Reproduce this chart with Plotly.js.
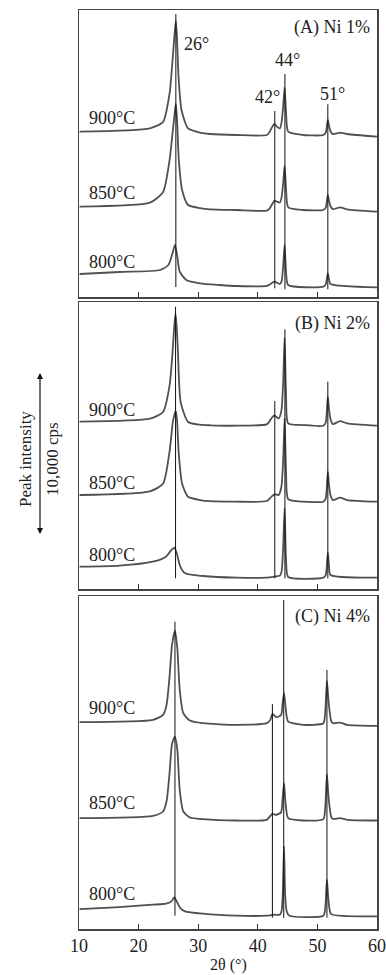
<!DOCTYPE html>
<html>
<head>
<meta charset="utf-8">
<script src="https://cdn.plot.ly/plotly-3.0.1.min.js"></script>
<style>html,body{margin:0;padding:0;background:#fff;}#chart{width:386px;height:975px;}</style>
</head>
<body>
<div id="chart"></div>
<script>
// ---------- DATA (2θ in degrees, intensity in cps above each pattern's baseline) ----------
const tempLabels = ["900°C", "850°C", "800°C"];
const panelLabels = ["(A) Ni 1%", "(B) Ni 2%", "(C) Ni 4%"];
const peakLabels = ["26°", "42°", "44°", "51°"];
const tickVals = [10, 20, 30, 40, 50, 60];
const tickText = ["10", "20", "30", "40", "50", "60"];

// Panel A (Ni 1%)
const a900x = [10.1,21.9,24.1,25.2,25.7,26.0,26.25,26.45,26.7,27.2,28.3,30.3,32.0,36.4,41.5,42.0,42.5,42.8,43.2,43.7,43.95,44.25,44.5,44.75,45.1,47.6,51.0,51.4,51.75,51.95,52.2,52.6,53.8,55.0,60.0];
const a900y = [205,412,800,2563,4613,6046,7032,5900,3587,1538,412,150,60,0,0,205,554,677,513,410,700,1700,2932,1300,205,0,0,150,923,550,230,50,144,62,-103];
const a850x = [10.1,21.9,24.1,25.2,25.75,26.05,26.25,26.45,26.75,27.3,28.3,30.3,32.0,36.4,41.5,42.0,42.5,42.8,43.2,43.7,43.95,44.25,44.5,44.75,45.1,47.6,51.0,51.4,51.75,51.95,52.2,52.6,53.8,55.0,60.0];
const a850y = [205,449,1100,3075,4920,5947,6519,5535,3075,1230,308,120,40,0,-41,103,410,574,513,451,700,1600,2727,1200,164,0,0,150,923,550,230,50,164,41,-103];
const a800x = [10.1,16.8,23.6,25.0,25.7,26.1,26.5,26.9,28.0,30.3,33.6,36.4,41.5,42.3,42.8,43.7,44.0,44.25,44.5,44.75,45.1,51.0,51.4,51.75,51.95,52.2,60.0];
const a800y = [738,861,984,1292,2030,2522,1802,880,369,166,62,0,0,164,267,123,300,1200,2521,800,60,-41,100,779,400,123,-82];

// Panel B (Ni 2%)
const b900x = [10.1,21.9,24.1,25.2,25.7,26.0,26.2,26.4,26.6,27.05,28.3,30.3,32.0,36.4,41.5,42.0,42.5,42.8,43.5,43.95,44.25,44.5,44.75,45.1,47.6,51.0,51.4,51.75,51.95,52.2,52.6,53.8,55.0,60.0];
const b900y = [246,430,843,2485,4533,6200,6909,6000,4533,1458,228,60,25,0,82,287,554,615,451,900,2600,5412,1800,144,41,0,200,1784,1000,400,100,287,144,0];
const b850x = [10.1,21.9,24.1,25.2,25.75,26.05,26.25,26.45,26.75,27.3,28.3,30.3,32.0,36.4,41.5,42.3,42.8,43.5,43.95,44.25,44.5,44.75,45.1,47.6,51.0,51.4,51.75,51.95,52.2,52.6,53.8,55.0,60.0];
const b850y = [410,640,1100,3100,4920,5400,5576,5000,2900,1100,300,100,30,0,41,308,451,410,900,2500,5125,1700,164,0,0,200,1845,1000,400,100,246,103,0];
const b800x = [10.1,16.8,22.4,24.6,25.5,26.0,26.4,27.0,27.8,30.8,36.4,41.5,42.8,43.7,44.0,44.25,44.5,44.75,45.1,51.0,51.4,51.75,51.95,52.2,60.0];
const b800y = [677,738,984,1292,1702,1845,1497,677,267,103,0,0,62,123,400,1800,4264,1000,41,0,150,1558,700,164,0];

// Panel C (Ni 4%)
const c900x = [10.1,22.4,24.1,24.7,25.2,25.6,26.1,26.5,26.9,27.5,28.6,30.8,36.4,41.5,42.1,42.45,43.1,43.9,44.15,44.4,44.6,44.85,45.1,47.6,51.0,51.3,51.6,51.8,51.95,52.3,52.6,53.8,55.0,60.0];
const c900y = [164,308,615,1250,3000,4900,5802,4700,2153,718,267,103,0,103,308,677,472,600,1300,1948,1300,500,205,0,100,700,2706,1800,1168,246,100,144,0,-62];
const c850x = [10.1,22.4,24.1,24.7,25.2,25.6,26.1,26.5,26.9,27.5,28.6,30.8,36.4,41.5,42.1,42.45,43.1,43.9,44.15,44.4,44.6,44.85,45.1,47.6,51.0,51.3,51.6,51.8,51.95,52.3,52.6,53.8,55.0,60.0];
const c850y = [144,287,554,1200,2950,4700,5166,4346,1886,554,185,82,0,41,287,410,349,500,1300,2296,1300,450,144,0,80,700,2853,1800,1150,240,100,144,41,0];
const c800x = [10.1,16.8,22.4,24.6,25.5,26.0,26.4,27.0,27.8,30.8,36.4,41.5,42.8,43.7,44.0,44.2,44.4,44.6,44.85,45.3,51.0,51.3,51.6,51.8,52.0,52.3,60.0];
const c800y = [410,533,677,738,882,1128,882,472,267,123,0,0,62,62,300,1500,4264,1200,267,0,0,400,2214,1200,500,100,-41];

// Baseline offsets of the stacked patterns (cps), order 900, 850, 800
const offsetsA = [9963, 5351, 677];
const offsetsB = [10043, 5370, 697];
const offsetsC = [12565, 6679, 818];

// Reference peak lines: positions (°), top and bottom (cps)
const peaksA = [26.25, 42.85, 44.55, 51.75];
const peakTopA = [17405, 11439, 13715, 11851];
const peakBotA = [615, 535, 474, 474];
const peaksB = [26.2, 42.85, 44.55, 51.75];
const peakTopB = [17361, 11562, 15971, 12749];
const peakBotB = [658, 658, 658, 658];
const peaksC = [26.1, 42.45, 44.35, 51.6];
const peakTopC = [18917, 13838, 20252, 15947];
const peakBotC = [818, 695, 677, 695];

// ---------- BUILD ----------
const FONT = "Liberation Serif, Times New Roman, serif";
const traceColor = "#505050";
const traces = [];
function addPattern(xs, ys, off, xa, ya) {
  traces.push({x: xs, y: ys.map(v => v + off), xaxis: xa, yaxis: ya, type: "scatter", mode: "lines",
    line: {color: traceColor, width: 1.8, shape: "spline", smoothing: 0.6}, hoverinfo: "skip", showlegend: false});
}
function addPeakLines(pos, top, bot, xa, ya) {
  const xs = [], ys = [];
  pos.forEach((p, i) => { xs.push(p, p, null); ys.push(bot[i], top[i], null); });
  traces.push({x: xs, y: ys, xaxis: xa, yaxis: ya, type: "scatter", mode: "lines",
    line: {color: "#111111", width: 1}, hoverinfo: "skip", showlegend: false});
}
// Panel A -> x3/y3 (top), B -> x2/y2, C -> x/y (bottom)
addPattern(a900x, a900y, offsetsA[0], "x3", "y3");
addPattern(a850x, a850y, offsetsA[1], "x3", "y3");
addPattern(a800x, a800y, offsetsA[2], "x3", "y3");
addPeakLines(peaksA, peakTopA, peakBotA, "x3", "y3");
addPattern(b900x, b900y, offsetsB[0], "x2", "y2");
addPattern(b850x, b850y, offsetsB[1], "x2", "y2");
addPattern(b800x, b800y, offsetsB[2], "x2", "y2");
addPeakLines(peaksB, peakTopB, peakBotB, "x2", "y2");
addPattern(c900x, c900y, offsetsC[0], "x", "y");
addPattern(c850x, c850y, offsetsC[1], "x", "y");
addPattern(c800x, c800y, offsetsC[2], "x", "y");
addPeakLines(peaksC, peakTopC, peakBotC, "x", "y");

const PX = 61.5; // cps per pixel
const H = 975, T = 10, B = 46, plotH = H - T - B;
function dom(topPx, botPx) { return [(H - B - botPx) / plotH, (H - B - topPx) / plotH]; }

function xAxis(anchor, labels) {
  return {range: [10, 60], anchor: anchor, tickmode: "array", tickvals: tickVals, ticktext: tickText,
    showticklabels: labels, ticks: "inside", ticklen: 5, tickwidth: 1.2, tickcolor: "#333",
    showline: true, mirror: true, linecolor: "#444", linewidth: 1.5, showgrid: false, zeroline: false,
    tickfont: {family: FONT, size: 18, color: "#222"}, fixedrange: true};
}
function yAxis(anchor, domain, range) {
  return {domain: domain, range: range, anchor: anchor, showticklabels: false, ticks: "",
    showline: true, mirror: true, linecolor: "#444", linewidth: 1.5, showgrid: false, zeroline: false, fixedrange: true};
}
const domA = dom(10, 297), domB = dom(302, 589), domC = dom(596, 929);

const annFont = {family: FONT, size: 18, color: "#222"};
const annotations = [];
function tempAnn(xa, ya, ys) {
  tempLabels.forEach((t, i) => annotations.push({text: t, xref: xa, yref: ya, x: 11.3, y: ys[i],
    xanchor: "left", yanchor: "middle", showarrow: false, font: annFont}));
}
tempAnn("x3", "y3", [11009, 6396, 2153]);
tempAnn("x2", "y2", [11009, 6519, 2091]);
tempAnn("x", "y", [13592, 7749, 2171]);
[["x3","y3",16544],["x2","y2",16341],["x","y",19225]].forEach((a, i) => annotations.push({
  text: panelLabels[i], xref: a[0], yref: a[1], x: 59.2, y: a[2], xanchor: "right", yanchor: "middle",
  showarrow: false, font: {family: FONT, size: 18, color: "#222"}}));
// peak labels in panel A
[[27.3,15541,"left"],[41.6,12318,"center"],[45.0,14576,"center"],[52.55,12466,"center"]].forEach((p, i) =>
  annotations.push({text: peakLabels[i], xref: "x3", yref: "y3", x: p[0], y: p[1], xanchor: p[2], yanchor: "middle",
    showarrow: false, font: annFont}));
// axis title
annotations.push({text: "2θ (°)", xref: "paper", yref: "paper", x: 0.5, y: 0, yshift: -36,
  xanchor: "center", yanchor: "middle", showarrow: false, font: {family: FONT, size: 16, color: "#222"}});
// intensity scale
const yMid = (H - B - 459) / plotH;
annotations.push({text: "Peak intensity", xref: "paper", yref: "paper", x: (25 - 79) / 298, y: yMid,
  xanchor: "center", yanchor: "middle", textangle: -90, showarrow: false, font: {family: FONT, size: 17, color: "#222"}});
annotations.push({text: "10,000 cps", xref: "paper", yref: "paper", x: (52 - 79) / 298, y: yMid,
  xanchor: "center", yanchor: "middle", textangle: -90, showarrow: false, font: {family: FONT, size: 17, color: "#222"}});
annotations.push({text: "", xref: "paper", yref: "paper", x: (40 - 79) / 298, y: (H - B - 373) / plotH,
  axref: "pixel", ayref: "pixel", ax: 0, ay: 10000 / PX, showarrow: true, arrowside: "end+start",
  arrowhead: 2, arrowsize: 1, arrowwidth: 1.2, arrowcolor: "#111"});

const layout = {
  width: 386, height: 975, margin: {l: 79, r: 9, t: T, b: B},
  paper_bgcolor: "#fff", plot_bgcolor: "#fff", showlegend: false,
  xaxis: xAxis("y", true), yaxis: yAxis("x", domC, [0, 333.3 * PX]),
  xaxis2: xAxis("y2", false), yaxis2: yAxis("x2", domB, [0, 287 * PX]),
  xaxis3: xAxis("y3", false), yaxis3: yAxis("x3", domA, [0, 287 * PX]),
  annotations: annotations
};
Plotly.newPlot("chart", traces, layout, {staticPlot: true, displayModeBar: false});
</script>
</body>
</html>
